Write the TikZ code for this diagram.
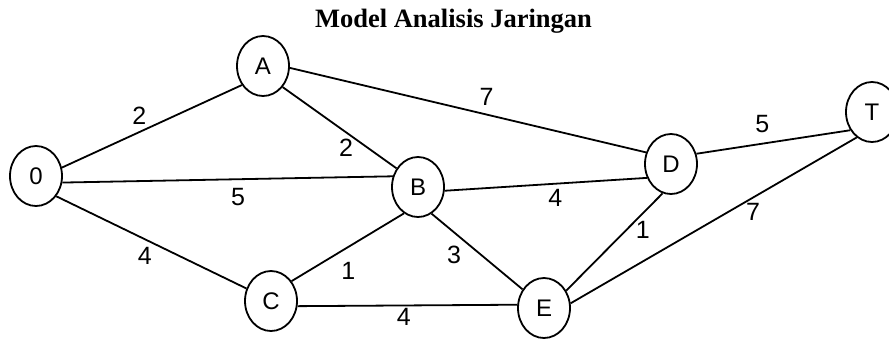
\documentclass[tikz,border=0pt]{standalone}
\usepackage{fontspec}
\setmainfont{Liberation Serif}
\newfontfamily\lblfont{Liberation Sans}
\usetikzlibrary{shapes.geometric}

\begin{document}
\begin{tikzpicture}[x=1pt,y=-1pt,line width=1.8pt,
  vtx/.style={ellipse,draw,minimum width=52pt,minimum height=60pt,inner sep=0pt,
    font=\lblfont\fontsize{24}{24}\selectfont},
  wt/.style={inner sep=0pt,font=\lblfont\fontsize{25}{25}\selectfont}]
  \useasboundingbox (0,0) rectangle (889,341);
  \node[font=\bfseries\fontsize{26.5}{28}\selectfont,anchor=base] (title) at (453.5,27) {Model Analisis Jaringan};

  \node[vtx] (n0) at (36,176) {0};
  \node[vtx] (nA) at (263,66) {A};
  \node[vtx] (nB) at (418,187) {B};
  \node[vtx] (nC) at (271,301) {C};
  \node[vtx] (nD) at (671,164) {D};
  \node[vtx] (nT) at (872,112) {T};
  \node[vtx] (nE) at (544,308) {E};

  % edges: from/anchor/to/anchor/weight/label shift
  \foreach \u/\a/\v/\b/\w/\dx/\dy in {
      n0/18/nA/222/2/-12.5/-11,
      n0/-14.5/nB/157/5/10.5/17.5,
      n0/-45/nC/153/4/-6.5/14,
      nA/-47/nB/139/2/6.5/20,
      nA/-4/nD/155/7/18.5/-13.5,
      nB/-118/nC/44/1/0.5/23.5,
      nB/-8/nD/210/4/9.5/14,
      nB/-63/nE/139/3/-23/3.5,
      nC/-11/nE/173/4/-3.5/11.5,
      nD/22/nT/220/5/-11/-17.5,
      nD/-106/nE/38/1/28.5/-12.5,
      nE/10/nT/239/7/39.5/-8.5}
    \draw (\u.\a) -- node[wt,shift={(\dx,\dy)}] (w\u\v) {\w} (\v.\b);
\end{tikzpicture}
\end{document}
